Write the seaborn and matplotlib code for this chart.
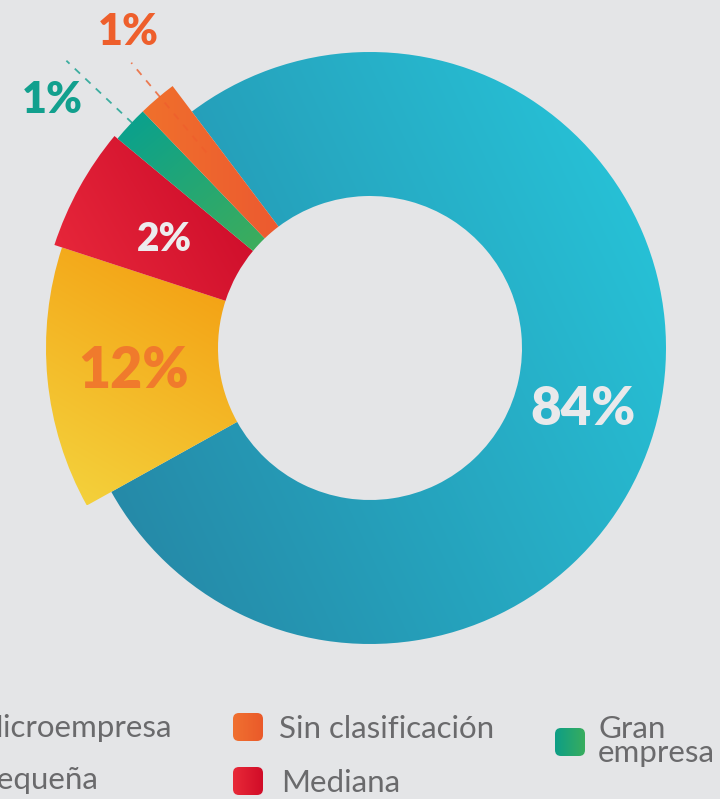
import numpy as np
import matplotlib.pyplot as plt
from matplotlib.patches import Wedge, FancyBboxPatch
from matplotlib.colors import to_rgb
import seaborn as sns

sns.set_theme(style='white')
plt.rcParams['font.family'] = ['Lato', 'DejaVu Sans']

# datos
categorias = ['Microempresa', 'Pequeña', 'Mediana', 'Gran\nempresa', 'Sin clasificación']
porcentajes = [84, 12, 2, 1, 1]
# tamaño de cada arco tal como aparece dibujado (en % de la vuelta)
arcos = [77.2, 13.1, 6.0, 1.8, 1.9]
color_ini = ['#2584a3', '#f4d43e', '#ea2a3c', '#06a091', '#f0702c']
color_fin = ['#27c9dd', '#f39a0e', '#c90828', '#3fad5a', '#ec5a30']
grad_ang = [25, 60, 30, -50, 0]

BG = '#e4e5e7'
W, H = 720, 799
cx, cy = 370, H - 348
r_in = 152
r_out = [296, 324, 332, 328, 328]
inicio = 127  # grados, sentido horario


def relleno(ax, patch, c0, c1, ang, n=220):
    ext = patch.get_path().get_extents()
    x0, y0, x1, y1 = ext.x0, ext.y0, ext.x1, ext.y1
    X, Y = np.meshgrid(np.linspace(x0, x1, n), np.linspace(y0, y1, n))
    t = X * np.cos(np.radians(ang)) + Y * np.sin(np.radians(ang))
    t = (t - t.min()) / (t.max() - t.min())
    img = (1 - t)[..., None] * np.array(to_rgb(c0)) + t[..., None] * np.array(to_rgb(c1))
    im = ax.imshow(img, extent=(x0, x1, y0, y1), origin='lower',
                   interpolation='bilinear', zorder=2)
    im.set_clip_path(patch)


fig = plt.figure(figsize=(W / 100, H / 100), dpi=100)
fig.patch.set_facecolor(BG)
ax = fig.add_axes([0, 0, 1, 1])
ax.set_facecolor(BG)

a = inicio
medios = []
for i, s in enumerate(arcos):
    span = 360 * s / 100
    w = Wedge((cx, cy), r_out[i], a - span, a, width=r_out[i] - r_in,
              facecolor='none', edgecolor='none')
    ax.add_patch(w)
    relleno(ax, w, color_ini[i], color_fin[i], grad_ang[i])
    medios.append(a - span / 2)
    a -= span


def polar(r, ang):
    return cx + r * np.cos(np.radians(ang)), cy + r * np.sin(np.radians(ang))


lbl = [f'{p}%' for p in porcentajes]
# etiquetas dentro del anillo
x, y = polar(222, medios[0] - 4)
ax.text(x, y, lbl[0], color='#e9e9eb', fontsize=38, fontweight='heavy',
        ha='center', va='center', zorder=5)
x, y = polar(238, medios[1])
ax.text(x, y, lbl[1], color='#f07a2c', fontsize=40, fontweight='heavy',
        ha='center', va='center', zorder=5)
x, y = polar(232, medios[2] + 1)
ax.text(x, y, lbl[2], color='#ececee', fontsize=28, fontweight='heavy',
        ha='center', va='center', zorder=5)

# etiquetas externas con guías
for i, (r0, r1, rt, dt, col) in zip([3, 4], [(327, 418, 403, 5, '#12a08e'),
                                            (255, 372, 398, -3, '#ee5f2c')]):
    x0, y0 = polar(r0, medios[i] - 0.5)
    x1, y1 = polar(r1, medios[i] - 0.5)
    ax.plot([x0, x1], [y0, y1], ls=(0, (4, 4)), lw=1.3, color=col, alpha=0.8, zorder=6)
    xt, yt = polar(rt, medios[i] + dt)
    ax.text(xt, yt, lbl[i], color=col, fontsize=31, fontweight='heavy',
            ha='center', va='center', zorder=6)

# leyenda
ley_col = '#6a6a6c'
fs = 22.5
cuadros = [(233, 713, 2), (233, 767, 3), (555, 728, 4)]
col_cuadro = {2: ('#f07030', '#ea5a2a'), 3: ('#e82a38', '#d10c28'), 4: ('#0d9e86', '#38ad5e')}
for xq, yq, k in cuadros:
    b = FancyBboxPatch((xq + 4, H - yq - 28 + 4), 22, 20,
                       boxstyle='round,pad=4,rounding_size=6',
                       facecolor='none', edgecolor='none')
    ax.add_patch(b)
    relleno(ax, b, col_cuadro[k][0], col_cuadro[k][1], 0, n=40)

ax.text(172, H - 737, categorias[0], color=ley_col, fontsize=fs, ha='right', va='baseline')
ax.text(98, H - 789, categorias[1], color=ley_col, fontsize=fs, ha='right', va='baseline')
ax.text(279, H - 738, categorias[4], color=ley_col, fontsize=fs, ha='left', va='baseline')
ax.text(281, H - 792, categorias[2], color=ley_col, fontsize=fs, ha='left', va='baseline')
ax.text(598, H - 715, categorias[3], color=ley_col, fontsize=fs, ha='left', va='top',
        linespacing=0.82)

ax.set_xlim(0, W)
ax.set_ylim(0, H)
ax.set_aspect('auto')
ax.axis('off')

fig.savefig('out.png', dpi=100, facecolor=BG)
